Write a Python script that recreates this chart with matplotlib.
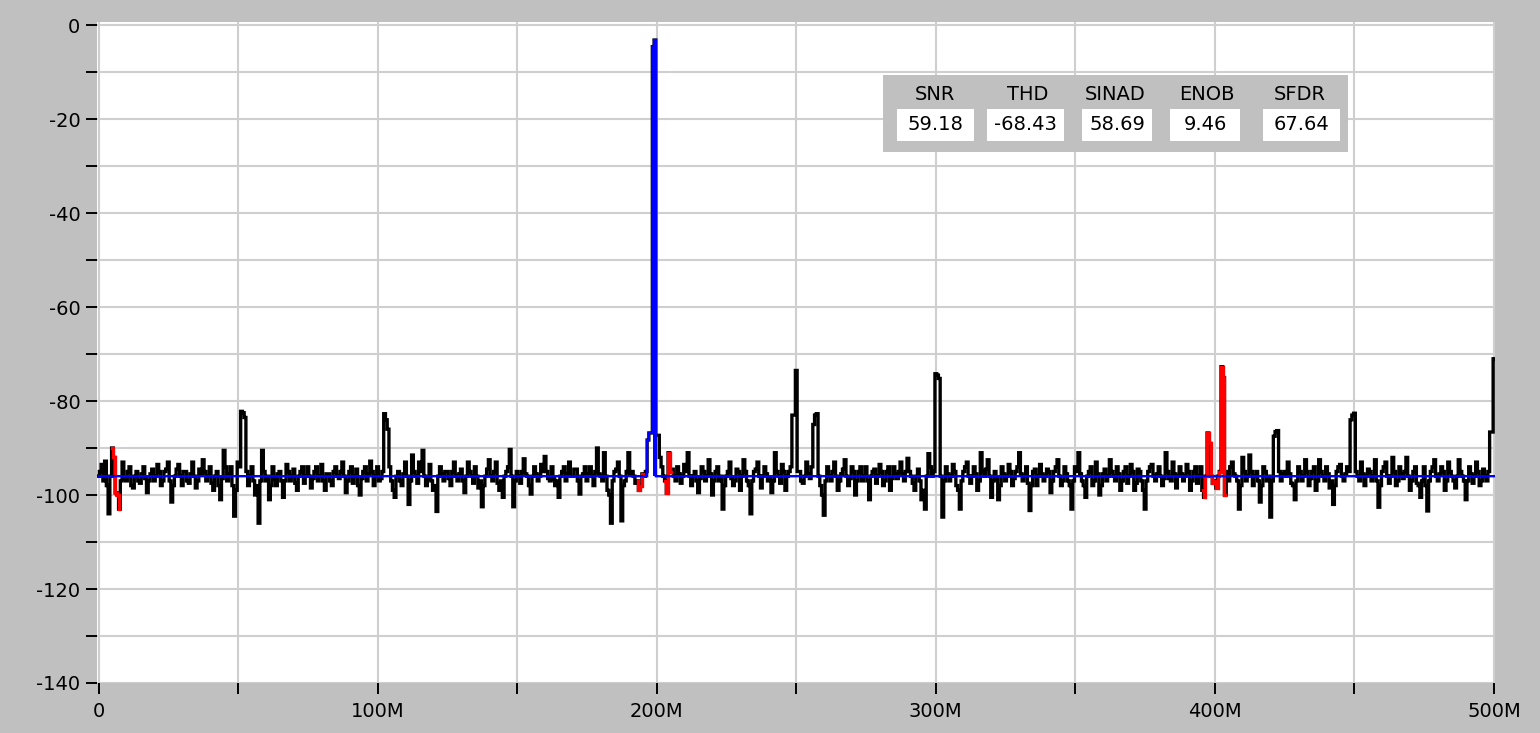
import numpy as np
import matplotlib
matplotlib.use("Agg")
import matplotlib.pyplot as plt
from matplotlib.patches import Rectangle

# ---------------- data ----------------
freq_max_M = 500.0
spectrum_db = [
    -96, -95, -93.5, -97, -92.8, -98, -104, -96, -90, -92, -99.5, -100, -103, -97, -93, -96.5, -97, -95, -94, -98,
    -98.5, -96, -95, -97, -97.5, -95.5, -94, -96.5, -99.5, -97, -95.5, -94.5, -97, -96, -93.5, -95, -98, -97, -95, -94.5,
    -93, -97, -101.5, -98, -96, -94.5, -93.5, -96, -98, -95, -95, -97, -97.5, -95.5, -93, -96, -98.5, -97, -94.5, -95.5,
    -92.5, -95, -97, -96, -94, -97.5, -99, -96, -95, -98, -101, -96.5, -90.5, -94, -97, -95.5, -94, -98, -104.5, -99,
    -93, -94, -82.2, -82.5, -83.5, -95, -98, -96, -94, -97, -100, -98, -106, -97, -90.5, -95, -97, -96, -101, -98,
    -94, -96.5, -98, -95.5, -95, -97, -100.5, -97, -93.5, -95, -97, -96, -94.5, -97.5, -99, -96, -95, -94, -97.5, -96,
    -94, -96, -98.5, -96.5, -95, -94, -97, -96, -93.5, -97, -99, -95.5, -95.5, -97, -98, -95, -94, -96, -96.5, -95,
    -93, -96, -99.5, -97, -95, -94, -97.5, -96, -94.5, -98, -100, -96.5, -95, -94, -97, -95.5, -92.8, -95, -98, -96,
    -94, -97, -96.5, -95, -82.7, -84, -86, -94, -97, -99, -100.5, -96, -95, -97, -98, -95.5, -93, -96, -102, -97,
    -91.5, -95, -96, -97.5, -93, -95, -90.5, -96, -98, -96.5, -93.5, -97, -99, -98, -103.5, -96, -94, -95.5, -97, -95,
    -95, -96.5, -98, -95, -93, -96, -97, -95.5, -94.5, -97, -99.5, -96, -93, -95, -96, -97.5, -94, -96, -98.5, -97,
    -102.5, -98, -96, -94.5, -92.5, -96, -97, -95, -93, -97.5, -99, -97, -100.5, -96, -95, -94, -90.3, -96, -102.5, -97,
    -95, -96, -97.5, -95, -92.3, -95.5, -96, -98, -99.8, -96, -94, -95.5, -97, -96, -93.5, -95, -91.8, -95, -96.5, -97,
    -94, -96.5, -98, -97, -100.5, -96, -95, -94, -97, -95.5, -93, -96, -96, -94.5, -94.5, -97, -99.8, -96, -95.5, -94,
    -97, -95.5, -94, -96, -98, -95, -90, -95.5, -96, -97, -91, -96, -99, -100, -106, -97, -95, -94.5, -93, -96,
    -105.5, -98, -97, -95, -91, -95.5, -95, -96, -97.5, -97, -99, -98, -95.5, -96, -95, -88.3, -86.8, -86.8, -4.6, -3.2,
    -87.3, -87.3, -92, -94, -96, -97, -99.6, -91, -95, -94.5, -96, -97, -94, -95.5, -97.5, -96, -93.5, -95, -91, -96,
    -98, -96, -95, -97, -99.5, -96.5, -94, -95, -97, -96, -92.5, -95.5, -100, -97, -95, -94, -97, -96, -103, -98,
    -96, -95, -93, -96.5, -98, -97, -94.5, -95, -99, -96, -92.5, -95, -97, -98, -104, -97, -95, -94.5, -93, -96,
    -98.5, -96, -94, -95.5, -97, -96.5, -99.5, -97, -91, -95, -96, -97.5, -93.5, -95, -99, -96, -95, -94, -83, -83,
    -73.5, -95, -95, -97, -97.5, -96, -93, -95.5, -96.5, -94, -85, -83, -82.7, -96, -98, -100, -104.3, -97, -94, -96,
    -97, -95, -93, -96, -99, -97, -95.5, -94.5, -92.5, -96, -98, -96.5, -94, -95, -100, -97, -95, -94, -97, -96,
    -94, -97, -101, -96, -95, -94.5, -97.5, -96, -93.5, -95, -98, -97, -95, -94, -99, -96.5, -94, -95.5, -96.5, -95,
    -93, -95.5, -97, -95, -92.2, -95, -96, -97.5, -99, -96, -94.5, -97, -101, -99, -103, -96, -91.2, -94, -96, -95,
    -74.2, -74.5, -75.2, -96, -104.7, -97, -94, -95.5, -97, -96, -93.5, -95, -98, -99, -103, -97, -95, -94, -93, -96,
    -97.5, -96, -94, -95.5, -99, -97, -91, -95, -96, -94.5, -92.5, -96, -100.5, -97, -95, -96.5, -101, -98, -94, -95.5,
    -97, -96, -93.5, -95, -98, -96.5, -95, -94, -91, -95.5, -97, -96, -94, -97.5, -103.3, -98, -95, -94.5, -98, -96,
    -93.5, -95.5, -97, -96, -94.5, -95, -99.5, -97, -95, -94, -92.5, -96, -98, -97, -94, -95.5, -97, -98, -103, -97,
    -94, -95, -91, -95.5, -97, -98, -100.5, -96, -95, -94, -98, -97, -93, -95.5, -100, -98, -95.5, -94.5, -97, -96,
    -92.5, -95, -96, -97, -94, -95.5, -99, -97, -95, -94, -97.5, -96, -93.5, -95, -99, -97.5, -94.5, -95, -97, -99,
    -103, -97, -95, -94, -93.5, -96, -97, -95.5, -94, -96, -98, -96.5, -91, -95, -96.5, -97, -93, -95.5, -98.5, -96,
    -94, -95.5, -97, -96, -93.5, -95, -99, -97, -95, -94, -97.5, -96, -94, -99, -100.5, -96, -86.8, -89, -96, -97.5,
    -97, -98.5, -96, -95, -72.7, -75, -100, -95, -97, -94, -93, -95.5, -96, -97, -103, -98, -92, -95, -97, -96,
    -91.5, -95, -98, -96, -95, -97, -101.5, -98, -94, -95, -97, -96, -104.7, -97, -87.5, -86.5, -86.3, -95, -97, -95.5,
    -95, -96, -93, -95.5, -97.5, -98, -101, -97, -94, -95, -97, -96, -92.5, -95, -98, -96.5, -95, -94, -99, -97,
    -92.5, -95, -96, -97, -94, -95.5, -98.5, -97, -102, -98, -95, -94, -93.5, -96, -97, -95.5, -94, -95, -84, -83,
    -82.6, -95, -96, -97, -93, -95.5, -98, -96, -94.5, -95, -97, -96, -92.5, -97, -102.6, -98, -95, -94, -93, -96,
    -97.5, -96, -92, -95, -98, -97, -94, -95.5, -96.5, -95, -92, -96, -99, -97, -95, -94, -97.5, -98, -100.5, -97,
    -94, -98, -103.4, -97, -95, -94, -92.5, -96, -97, -95.5, -94, -95, -99, -97, -93, -95, -96, -97, -98.5, -96,
    -92.5, -95, -96, -97, -101, -97, -94, -95.5, -97.5, -96, -93, -95, -98, -97, -94.5, -96, -97, -95, -86.6, -86.6,
    -71,
]
# bin index ranges (first, last) of the harmonic components (red) and of the fundamental (blue)
harmonic_ranges = [(8, 12), (309, 312), (325, 328), (633, 646)]
fundamental_range = (315, 319)
noise_floor_db = -96.0

stat_names = ["SNR", "THD", "SINAD", "ENOB", "SFDR"]
stat_values = ["59.18", "-68.43", "58.69", "9.46", "67.64"]

x_major = [0, 100e6, 200e6, 300e6, 400e6, 500e6]
x_major_labels = ["0", "100M", "200M", "300M", "400M", "500M"]
y_major = [0, -20, -40, -60, -80, -100, -120, -140]
y_major_labels = ["0", "-20", "-40", "-60", "-80", "-100", "-120", "-140"]

# ---------------- figure ----------------
W, H = 1540, 733
bg = "#c0c0c0"
fig = plt.figure(figsize=(W / 100, H / 100), dpi=100, facecolor=bg)
plt.rcParams["font.family"] = ["DejaVu Sans"]

ax = fig.add_axes([97 / W, 1 - 683 / H, (1495 - 97) / W, (683 - 22) / H])
ax.set_facecolor("white")

n_bins = len(spectrum_db)
freqs = np.linspace(0, freq_max_M * 1e6, n_bins)
spec = np.array(spectrum_db, dtype=float)

ax.plot(freqs, spec, color="black", lw=2.4, drawstyle="steps-mid",
        solid_joinstyle="miter", zorder=3)
for a, b in harmonic_ranges:
    ax.plot(freqs[a:b + 1], spec[a:b + 1], color="#ff0000", lw=2.4, drawstyle="steps-mid",
            solid_joinstyle="miter", zorder=4)

blue = np.full(n_bins, noise_floor_db)
fa, fb = fundamental_range
blue[fa:fb + 1] = spec[fa:fb + 1]
ax.plot(freqs, blue, color="#0000ff", lw=1.7, drawstyle="steps-mid",
        solid_joinstyle="miter", zorder=5)
ax.fill_between(freqs[fb - 1:fb + 1], spec[fb - 1:fb + 1], noise_floor_db,
                step="mid", color="#0000ff", lw=0, zorder=5)

ax.set_xlim(-0.54e6, 500.36e6)
ax.set_ylim(-140, 0.64)

ax.set_xticks(x_major)
ax.set_xticklabels(x_major_labels)
ax.set_xticks(np.arange(50e6, 500e6, 100e6), minor=True)
ax.set_yticks(y_major)
ax.set_yticklabels(y_major_labels)
ax.set_yticks(np.arange(-130, 0, 20), minor=True)

ax.grid(True, which="both", color="#cfcfcf", lw=1.5, zorder=0)
ax.set_axisbelow(True)
for s in ax.spines.values():
    s.set_visible(False)

ax.tick_params(axis="both", which="both", direction="out", length=8, width=1.4,
               color="black", labelsize=14, labelcolor="black")
ax.tick_params(axis="y", which="both", pad=4)
ax.tick_params(axis="x", which="both", pad=6)

# ---------------- stats box ----------------
def fr(x0, y0, x1, y1, color):
    fig.add_artist(Rectangle((x0 / W, 1 - y1 / H), (x1 - x0) / W, (y1 - y0) / H,
                             transform=fig.transFigure, facecolor=color, edgecolor="none", zorder=10))

fr(883, 75, 1348, 152, bg)
box_x = [(897, 974), (987, 1064), (1082, 1152), (1170, 1240), (1263, 1340)]
label_cx = [935, 1028, 1115, 1207, 1300]
for (x0, x1), cx, name, val in zip(box_x, label_cx, stat_names, stat_values):
    fr(x0, 109, x1, 141, "white")
    fig.text(cx / W, 1 - 94 / H, name, ha="center", va="center", fontsize=14, zorder=11)
    fig.text((x0 + x1) / 2 / W, 1 - 125 / H, val, ha="center", va="center", fontsize=14, zorder=11)

fig.savefig("out.png", dpi=100, facecolor=bg)
